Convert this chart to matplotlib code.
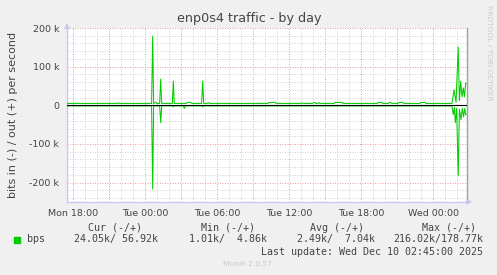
import matplotlib
matplotlib.use("Agg")
import matplotlib.pyplot as plt
from matplotlib.ticker import MultipleLocator, FuncFormatter

# ----- data (time in hours since Mon 00:00, values in bit/s) -----
out_t = [17.5, 21.70, 21.78, 21.86, 24.55, 24.64, 24.72, 24.80, 24.89, 24.97,
         25.22, 25.31, 25.39, 26.28, 26.36, 26.44, 27.45, 27.53, 27.81, 27.89,
         28.72, 28.81, 28.89, 29.20, 29.28, 29.36, 34.25, 34.33, 34.83, 34.91,
         37.02, 37.10, 37.18, 37.95, 38.03, 38.17, 38.25, 38.42, 38.50, 38.58,
         39.75, 39.83, 40.39, 40.47, 40.53, 40.61, 43.36, 43.44, 43.72, 43.80,
         44.28, 44.36, 44.50, 44.58, 45.09, 45.17, 45.47, 45.55, 46.92, 47.00,
         47.33, 47.41, 49.58, 49.75, 49.92, 50.10, 50.20, 50.31, 50.42, 50.53,
         50.62, 50.72, 50.78]
out_v = [5000, 5000, 6500, 5000, 5000, 178770, 5000, 6000, 8000, 5000,
         5000, 68000, 5000, 5000, 63000, 5000, 5000, 7500, 7500, 5000,
         5000, 63000, 5000, 5000, 7000, 5000, 5000, 7500, 7500, 5000,
         5000, 6500, 5000, 5000, 7000, 7000, 5000, 5000, 7000, 5000,
         5000, 7500, 7500, 5000, 6500, 5000, 5000, 7500, 7500, 5000,
         5000, 7000, 7000, 5000, 5000, 7500, 7500, 5000, 5000, 7500,
         7500, 5000, 5000, 40000, 8000, 151000, 12000, 62000, 22000, 45000,
         22000, 57000, 56920]

in_t = [17.5, 24.55, 24.64, 24.72, 25.22, 25.31, 25.39, 26.28, 26.36, 26.44,
        27.20, 27.28, 27.36, 28.72, 28.81, 28.89, 49.58, 49.69, 49.78, 49.86,
        49.97, 50.10, 50.20, 50.33, 50.44, 50.55, 50.64, 50.72, 50.78]
in_v = [1500, 1500, 216020, 1500, 1500, 45000, 1500, 1500, 4000, 1500,
        1500, 8000, 1500, 1500, 4000, 1500, 1500, 24000, 5000, 45000,
        8000, 182000, 10000, 37000, 8000, 30000, 8000, 24000, 24050]

day_names = ["Mon", "Tue", "Wed"]
stat_headers = ["Cur (-/+)", "Min (-/+)", "Avg (-/+)", "Max (-/+)"]
stat_in = [24.05, 1.01, 2.49, 216.02]
stat_out = [56.92, 4.86, 7.04, 178.77]
series_name = "bps"
last_update = "Last update: Wed Dec 10 02:45:00 2025"

W, H = 497, 275
GREEN = "#00CC00"
TXT = "#444444"

fig = plt.figure(figsize=(W / 100, H / 100), dpi=100, facecolor="#F0F0F0")
ax = fig.add_axes([67 / W, 1 - 202 / H, 400 / W, 174 / H])
ax.set_facecolor("white")

ax.plot(out_t, out_v, color=GREEN, lw=0.75, zorder=3)
ax.plot(in_t, [-v for v in in_v], color=GREEN, lw=0.75, zorder=3)
ax.axhline(0, color="black", lw=0.8, zorder=4)

ax.set_xlim(17.5, 17.5 + 2000 / 60)
ax.set_ylim(-250000, 200000)

# ----- grid -----
ax.xaxis.set_major_locator(MultipleLocator(3))
ax.xaxis.set_minor_locator(MultipleLocator(1))
ax.yaxis.set_major_locator(MultipleLocator(100000))
ax.yaxis.set_minor_locator(MultipleLocator(20000))


def xfmt(h, pos):
    h = int(round(h))
    if h % 6:
        return ""
    return "%s %02d:00" % (day_names[h // 24], h % 24)


def yfmt(v, pos):
    if abs(v) < 1:
        return "0"
    return "%d k" % round(v / 1000)


ax.xaxis.set_major_formatter(FuncFormatter(xfmt))
ax.yaxis.set_major_formatter(FuncFormatter(yfmt))
ax.grid(which="minor", color="#D4D4D4", lw=0.72, linestyle=(0, (1, 1.5)), zorder=1)
ax.grid(which="major", color="#E8A0A0", lw=0.72, linestyle=(0, (1, 1.5)), zorder=2)
ax.set_axisbelow(True)

ax.tick_params(which="both", length=0, labelsize=6.8, labelcolor=TXT)
ax.tick_params(axis="x", pad=5)
ax.tick_params(axis="y", pad=5.5)

ax.spines["top"].set_visible(False)
ax.spines["right"].set_color("#A0A0A0")
ax.spines["right"].set_linewidth(1.0)
ax.spines["left"].set_color("#C8C8F0")
ax.spines["bottom"].set_color("#C8C8F0")
ax.spines["left"].set_linewidth(1.0)
ax.spines["bottom"].set_linewidth(1.0)

# axis arrows
ax.annotate("", xy=(1.02, 0), xytext=(0.99, 0), xycoords="axes fraction",
            arrowprops=dict(arrowstyle="-|>", color="#C8C8F0", lw=1.0, mutation_scale=7),
            annotation_clip=False)
ax.annotate("", xy=(0, 1.045), xytext=(0, 0.99), xycoords="axes fraction",
            arrowprops=dict(arrowstyle="-|>", color="#C8C8F0", lw=1.0, mutation_scale=7),
            annotation_clip=False)

ax.set_ylabel("bits in (-) / out (+) per second", fontsize=8, color=TXT)
ax.yaxis.set_label_coords(-49 / 400, 0.5)


def ftext(x, y, s, **kw):
    fig.text(x / W, 1 - y / H, s, **kw)


ftext(249.5, 18.5, "enp0s4 traffic - by day", fontsize=9.2, color=TXT,
      ha="center", va="center")
ftext(488.5, 53, "RRDTOOL / TOBI OETIKER", fontsize=5.4, color="#CCCCCC",
      rotation=270, ha="center", va="center")

# ----- legend -----
mono = dict(family="DejaVu Sans Mono", fontsize=7.2, color=TXT, va="center")
fig.patches.append(plt.Rectangle((14 / W, 1 - 243.3 / H), 6 / W, 6 / H,
                                 transform=fig.transFigure, color=GREEN))
ftext(26.7, 239.3, series_name, ha="left", **mono)
head_right = [142, 255, 364.3, 476.3]
val_right = [157.7, 267, 374.7, 483]
for hd, hx, vx, vi, vo in zip(stat_headers, head_right, val_right, stat_in, stat_out):
    ftext(hx, 227.7, hd, ha="right", **mono)
    ftext(vx, 239.3, "%.2fk/%6.2fk" % (vi, vo), ha="right", **mono)
ftext(483, 252, last_update, ha="right", **mono)
ftext(247.7, 263.5, "Munin 2.0.57", fontsize=5.4, color="#C8C8C8",
      ha="center", va="center")

fig.savefig("out.png", dpi=100, facecolor=fig.get_facecolor())
